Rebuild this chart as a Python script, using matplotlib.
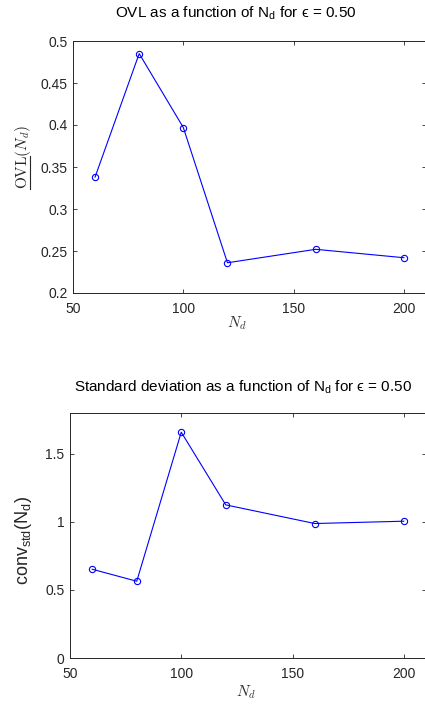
import matplotlib
matplotlib.use("Agg")
import matplotlib.pyplot as plt
from matplotlib.lines import Line2D

plt.rcParams['font.family'] = ['Liberation Sans', 'DejaVu Sans']
plt.rcParams['mathtext.fontset'] = 'custom'
plt.rcParams['mathtext.rm'] = 'Liberation Sans'
plt.rcParams['mathtext.it'] = 'Liberation Sans:italic'
plt.rcParams['mathtext.sf'] = 'Liberation Sans'

# data
nd = [60, 80, 100, 120, 160, 200]
ovl = [0.338, 0.485, 0.397, 0.236, 0.252, 0.242]
conv_std = [0.652, 0.564, 1.659, 1.125, 0.988, 1.005]

ovl_yticks = [0.2, 0.25, 0.3, 0.35, 0.4, 0.45, 0.5]
ovl_yticklabels = ['0.2', '0.25', '0.3', '0.35', '0.4', '0.45', '0.5']
std_yticks = [0, 0.5, 1, 1.5]
std_yticklabels = ['0', '0.5', '1', '1.5']
xticks = [50, 100, 150, 200]

W, H = 425, 704
fig = plt.figure(figsize=(W / 100, H / 100), dpi=100)


def box(l, t, r, b):
    return [l / W, 1 - b / H, (r - l) / W, (b - t) / H]


edge = '#262626'


def style(ax):
    ax.tick_params(direction='in', top=True, right=True, length=3, width=0.6,
                   labelsize=10, colors=edge)
    ax.tick_params(axis='x', pad=6.5)
    ax.tick_params(axis='y', pad=4)
    for s in ax.spines.values():
        s.set_linewidth(0.7)
        s.set_color(edge)


ax1 = fig.add_axes(box(73, 41, 426, 293))
ax1.plot(nd, ovl, '-o', color='blue', lw=0.8, ms=4.5, mfc='none', mew=0.8)
ax1.set_xlim(50, 210)
ax1.set_ylim(0.2, 0.5)
ax1.set_xticks(xticks)
ax1.set_yticks(ovl_yticks)
ax1.set_yticklabels(ovl_yticklabels)
style(ax1)

ax2 = fig.add_axes(box(70, 413, 426, 658))
ax2.plot(nd, conv_std, '-o', color='blue', lw=0.8, ms=4.5, mfc='none', mew=0.8)
ax2.set_xlim(50, 210)
ax2.set_ylim(0, 1.8)
ax2.set_xticks(xticks)
ax2.set_yticks(std_yticks)
ax2.set_yticklabels(std_yticklabels)
style(ax2)

# titles and labels
fig.text(236 / W, 1 - 13 / H, 'OVL as a function of N$_{\\mathrm{d}}$ for \u03f5 = 0.50',
         ha='center', va='center', fontsize=11, color='black')
fig.text(243 / W, 1 - 387 / H,
         'Standard deviation as a function of N$_{\\mathrm{d}}$ for \u03f5 = 0.50',
         ha='center', va='center', fontsize=11, color='black')

fig.text(237 / W, 1 - 323 / H, r'$N_d$', ha='center', va='center', fontsize=11,
         color='#333333', math_fontfamily='cm')
fig.text(246 / W, 1 - 692 / H, r'$N_d$', ha='center', va='center', fontsize=11,
         color='#333333', math_fontfamily='cm')

ylab = fig.text(23 / W, 1 - 157 / H, r'$\mathrm{OVL}(N_d)$', ha='center', va='center',
                rotation=90, fontsize=11, color='#262626', math_fontfamily='cm')
fig.text(23 / W, 1 - 540 / H, r'conv$_{\mathrm{std}}$(N$_{\mathrm{d}}$)', ha='center',
         va='center', rotation=90, fontsize=13, color='#262626')

# underline under "OVL" (mathtext has no \underline)
fig.canvas.draw()
r = fig.canvas.get_renderer()
bb = ylab.get_window_extent(r)
tmp = fig.text(0, 0, r'$(N_d)$', fontsize=11, math_fontfamily='cm')
wpar = tmp.get_window_extent(r).width
tmp.remove()
ux = (bb.x1 - 3.5) / W
fig.add_artist(Line2D([ux, ux], [(bb.y0 + 0.5) / H, (bb.y1 - wpar) / H], lw=0.8, color='#262626'))

fig.savefig('out.png', dpi=100)
